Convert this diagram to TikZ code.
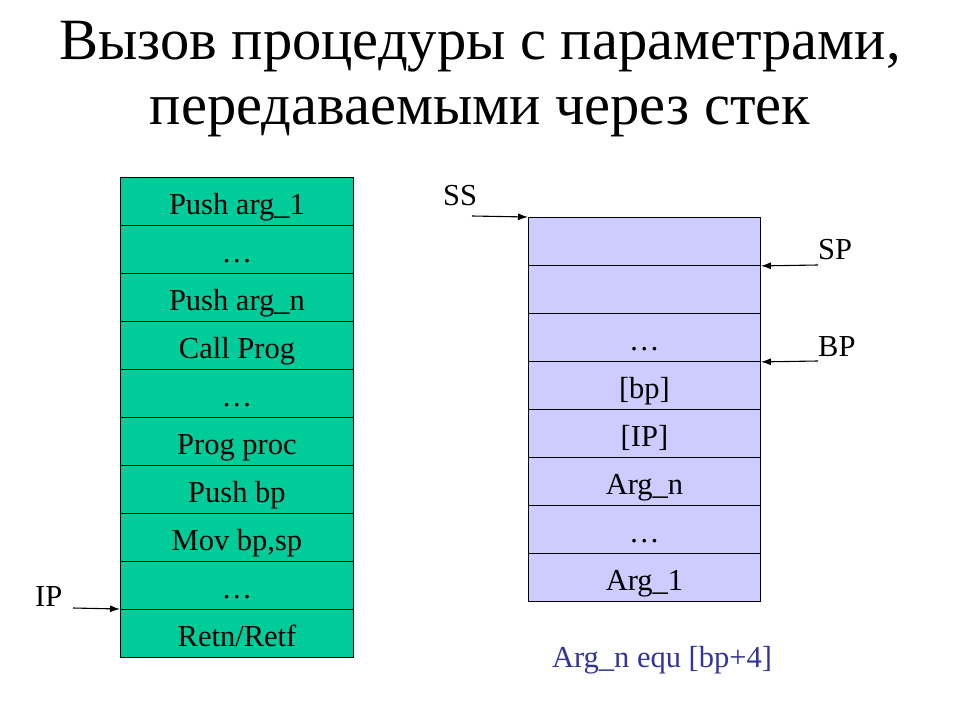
\documentclass[tikz,border=0pt]{standalone}
\usepackage{fontspec}
\setmainfont{Liberation Serif}
\usetikzlibrary{arrows.meta}
\definecolor{cellgreen}{RGB}{0,204,153}
\definecolor{celllav}{RGB}{204,204,255}
\definecolor{notecol}{RGB}{51,51,153}
\tikzset{
  cellbase/.style={draw=black, line width=0.9pt, minimum height=48pt, inner sep=0pt, anchor=north west, text height=30pt, text depth=4pt, font=\fontsize{30.5}{33}\selectfont},
  gcell/.style={cellbase, fill=cellgreen, minimum width=233pt},
  lcell/.style={cellbase, fill=celllav, minimum width=232pt},
  lbl/.style={font=\fontsize{30.5}{33}\selectfont, inner sep=0pt, anchor=west},
  ptr/.style={line width=1.1pt, -{Latex[length=10pt,width=7pt]}}
}
\begin{document}
\begin{tikzpicture}[x=1pt,y=-1pt]
\useasboundingbox (0,0) rectangle (960,720);
\node[font=\fontsize{58.5}{65}\selectfont, align=center, anchor=center] (title) at (480,79) {Вызов процедуры с параметрами,\\передаваемыми через стек};
% left column
\foreach \t [count=\i from 0] in {Push arg\_1,\dots,Push arg\_n,Call Prog,\dots,Prog proc,Push bp,Mov bp\rlap{,}\phantom{,}sp,\dots,Retn/Retf}{
  \node[gcell] (g\i) at (120,{177+48*\i}) {\t};
}
% right column
\foreach \t [count=\i from 0] in {{},{},\dots,[bp],[IP],Arg\_n,\dots,Arg\_1}{
  \node[lcell] (r\i) at (528,{217+48*\i}) {\t};
}
\node[lbl] (ss) at (443,196) {SS};
\node[lbl] (sp) at (818,250) {SP};
\node[lbl] (bp) at (818,347) {BP};
\node[lbl] (ip) at (35,597) {IP};
\coordinate (ssa) at (472,216);
\coordinate (spa) at (818,265);
\coordinate (bpa) at (818,361);
\coordinate (ipa) at (73,608);
\draw[ptr] (ssa) -- (r0.north west);
\draw[ptr] (spa) -- (r0.south east);
\draw[ptr] (bpa) -- (r2.south east);
\draw[ptr] (ipa) -- (g9.north west);
\node[font=\fontsize{30.5}{33}\selectfont, inner sep=0pt, text=notecol] (note) at (662,660) {Arg\_n equ [bp+4]};
\end{tikzpicture}
\end{document}
